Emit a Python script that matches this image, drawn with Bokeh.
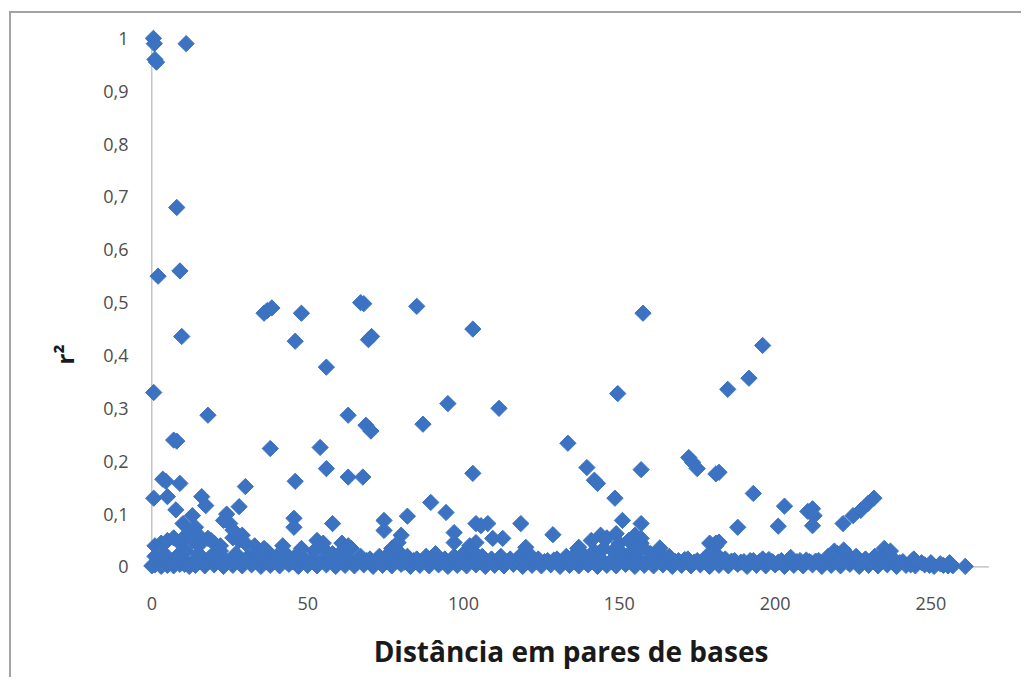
import math
from bokeh.plotting import figure
from bokeh.models import FixedTicker, Title
from bokeh.embed import file_html
from bokeh.resources import INLINE

# ---- data ----
x_label = "Distância em pares de bases"
y_label = "r²"

x_ticks = [0, 50, 100, 150, 200, 250]
x_axis_max = 268.6
y_ticks = [0, 0.1, 0.2, 0.3, 0.4, 0.5, 0.6, 0.7, 0.8, 0.9, 1.0]
y_tick_labels = ["0", "0,1", "0,2", "0,3", "0,4", "0,5", "0,6", "0,7", "0,8", "0,9", "1"]

# prominent (isolated) points
peak_x = [0.5, 0.8, 1.0, 1.5, 11, 8, 2, 9, 9.6, 0.6, 18, 7, 8, 36, 37, 38.5, 48, 46, 56,
          67, 68, 69.5, 70.5, 85, 103, 95, 87, 63, 68.7, 70.3, 38, 54, 56, 63, 67.7, 46,
          30, 103, 3.5, 4.5, 9, 0.6, 5, 16, 17.3, 7.7, 28, 13, 10, 14, 24, 25, 23, 18,
          45.6, 45.6, 58, 89.5, 94.4, 74.5, 74.5, 82, 80, 79, 97, 97, 104, 157.6, 196,
          191.6, 184.8, 149.5, 111.4, 133.5, 172.3, 173.5, 175, 182, 181, 157, 139.6, 142,
          143, 148.6, 193, 203, 210.5, 201, 188, 181, 182, 118.4, 128.7, 136.7, 151, 157,
          105.6, 107.8, 109.4, 112.6, 104, 157, 157, 212, 212.5, 212, 221.8, 225, 227.5,
          229.8, 231.7, 12, 15, 19, 26, 29]
peak_y = [1.0, 0.99, 0.96, 0.955, 0.99, 0.68, 0.55, 0.56, 0.436, 0.33, 0.287, 0.24, 0.238,
          0.48, 0.485, 0.49, 0.48, 0.427, 0.378, 0.5, 0.498, 0.43, 0.436, 0.493, 0.45,
          0.309, 0.27, 0.287, 0.268, 0.257, 0.224, 0.226, 0.186, 0.17, 0.17, 0.162, 0.152,
          0.177, 0.166, 0.162, 0.158, 0.13, 0.133, 0.133, 0.116, 0.108, 0.114, 0.097, 0.082,
          0.075, 0.1, 0.082, 0.088, 0.054, 0.092, 0.075, 0.082, 0.122, 0.103, 0.088, 0.069,
          0.096, 0.06, 0.046, 0.065, 0.046, 0.082, 0.48, 0.419, 0.357, 0.336, 0.328, 0.30,
          0.234, 0.207, 0.198, 0.186, 0.179, 0.176, 0.184, 0.188, 0.164, 0.158, 0.13, 0.139,
          0.115, 0.105, 0.077, 0.075, 0.045, 0.047, 0.082, 0.061, 0.035, 0.088, 0.082,
          0.078, 0.082, 0.054, 0.054, 0.046, 0.054, 0.04, 0.11, 0.097, 0.078, 0.082, 0.097,
          0.107, 0.12, 0.13, 0.065, 0.06, 0.05, 0.07, 0.06]

# dense band close to zero
band_low_x = [0, 1, 3, 5, 7, 9, 12, 14, 17, 20, 23, 26, 29, 32, 35, 38, 41, 44, 47, 50, 53,
              56, 59, 62, 65, 68, 71, 74, 77, 80, 83, 86, 89, 92, 95, 98, 101, 104, 107,
              110, 113, 116, 119, 122, 125, 128, 131, 134, 137, 140, 143, 146, 149, 152,
              155, 158, 161, 164, 167, 170, 173, 176, 179, 182, 185, 188, 191, 194, 197,
              200, 203, 206, 209, 212, 215, 218, 221, 224, 227, 230, 233, 236, 239, 242,
              245, 248, 251, 254, 257, 261]
band_low_y = [0.002, 0.004, 0.001, 0.003, 0.002, 0.005, 0.001, 0.003, 0.002, 0.004, 0.001,
              0.003, 0.002, 0.004, 0.001, 0.003, 0.002, 0.005, 0.001, 0.003, 0.002, 0.004,
              0.001, 0.003, 0.002, 0.004, 0.001, 0.003, 0.002, 0.005, 0.001, 0.003, 0.002,
              0.004, 0.001, 0.003, 0.002, 0.004, 0.001, 0.003, 0.002, 0.005, 0.001, 0.003,
              0.002, 0.004, 0.001, 0.003, 0.002, 0.004, 0.001, 0.003, 0.002, 0.005, 0.001,
              0.003, 0.002, 0.004, 0.001, 0.003, 0.002, 0.004, 0.001, 0.003, 0.002, 0.005,
              0.001, 0.003, 0.002, 0.004, 0.001, 0.003, 0.002, 0.004, 0.001, 0.003, 0.002,
              0.005, 0.001, 0.003, 0.002, 0.004, 0.001, 0.003, 0.002, 0.004, 0.001, 0.003,
              0.002, 0.001]
band_half_x = [1.5, 4.5, 7.5, 10.5, 13.5, 16.5, 19.5, 22.5, 25.5, 28.5, 31.5, 34.5, 37.5,
               40.5, 43.5, 46.5, 49.5, 52.5, 55.5, 58.5, 61.5, 64.5, 67.5, 70.5, 73.5, 76.5,
               79.5, 82.5, 85.5, 88.5, 91.5, 94.5, 97.5, 100.5, 103.5, 106.5, 109.5, 112.5,
               115.5, 118.5, 121.5, 124.5, 127.5, 130.5, 133.5, 136.5, 139.5, 142.5, 145.5,
               148.5, 151.5, 154.5, 157.5, 160.5, 163.5, 166.5, 169.5, 172.5, 175.5, 178.5,
               181.5, 184.5, 187.5, 190.5, 193.5, 196.5, 199.5, 202.5, 205.5, 208.5, 211.5,
               214.5, 217.5, 220.5, 223.5, 226.5, 229.5, 232.5, 235.5, 238.5, 243.5, 249.5,
               255.5]
band_half_y = [0.007, 0.006, 0.008, 0.005, 0.007, 0.006, 0.008, 0.005, 0.007, 0.006, 0.008,
               0.005, 0.007, 0.006, 0.008, 0.005, 0.007, 0.006, 0.008, 0.005, 0.007, 0.006,
               0.008, 0.005, 0.007, 0.006, 0.008, 0.005, 0.007, 0.006, 0.008, 0.005, 0.007,
               0.006, 0.008, 0.005, 0.007, 0.006, 0.008, 0.005, 0.007, 0.006, 0.008, 0.005,
               0.007, 0.006, 0.008, 0.005, 0.007, 0.006, 0.008, 0.005, 0.007, 0.006, 0.008,
               0.005, 0.007, 0.006, 0.008, 0.005, 0.007, 0.006, 0.008, 0.005, 0.007, 0.006,
               0.008, 0.005, 0.007, 0.006, 0.008, 0.005, 0.007, 0.006, 0.008, 0.005, 0.007,
               0.006, 0.008, 0.005, 0.004, 0.003, 0.002]
band_fill_x = [2, 6, 10, 13, 16, 18, 21, 24, 28, 30, 33, 36, 39, 42, 45, 48, 51, 54, 57, 60,
               63, 66, 69, 72, 75, 78, 81, 84, 87, 90, 93, 96, 99, 102, 105, 108, 111, 114,
               117, 120, 123, 126, 129, 132, 135, 138, 141, 144, 147, 150, 153, 156, 159, 162,
               165, 168, 171, 174, 177, 180, 183, 186, 189, 192, 195, 198, 201, 204, 207, 210,
               213, 216, 219, 222, 225, 228, 231, 234, 237, 240]
band_fill_y = [0.012, 0.01, 0.014, 0.009, 0.012, 0.01, 0.013, 0.011, 0.009, 0.012, 0.01,
               0.014, 0.009, 0.012, 0.01, 0.013, 0.011, 0.009, 0.012, 0.01, 0.014, 0.009,
               0.012, 0.01, 0.013, 0.011, 0.009, 0.012, 0.01, 0.014, 0.009, 0.012, 0.01,
               0.013, 0.011, 0.009, 0.012, 0.01, 0.014, 0.009, 0.012, 0.01, 0.013, 0.011,
               0.009, 0.012, 0.01, 0.014, 0.009, 0.012, 0.01, 0.013, 0.011, 0.009, 0.012,
               0.01, 0.014, 0.009, 0.012, 0.01, 0.013, 0.011, 0.009, 0.012, 0.01, 0.014,
               0.009, 0.012, 0.01, 0.013, 0.011, 0.009, 0.012, 0.01, 0.014, 0.009, 0.012,
               0.01, 0.013, 0.008]
band_mid_x = [1, 4, 8, 11, 15, 19, 22, 27, 31, 34, 37, 40, 43, 46, 49, 52, 55, 58, 61, 64,
              67, 70, 73, 76, 79, 82, 85, 88, 91, 94, 97, 100, 103, 106, 109, 112, 115, 118,
              121, 124, 127, 130, 133, 136, 139, 142, 145, 148, 151, 154, 157, 160, 163, 166,
              169, 172, 175, 178, 181, 184, 187, 190, 193, 196, 199, 202, 205, 208, 211, 214,
              217, 220, 223, 226, 229, 232, 235, 238, 241, 244, 247, 250, 253, 256]
band_mid_y = [0.02, 0.025, 0.02, 0.03, 0.025, 0.02, 0.03, 0.025, 0.02, 0.025, 0.03, 0.02,
              0.025, 0.02, 0.015, 0.03, 0.035, 0.025, 0.03, 0.035, 0.02, 0.015, 0.02, 0.025,
              0.03, 0.02, 0.015, 0.02, 0.025, 0.015, 0.02, 0.025, 0.03, 0.02, 0.015, 0.02,
              0.015, 0.02, 0.025, 0.015, 0.012, 0.015, 0.02, 0.025, 0.02, 0.03, 0.035, 0.03,
              0.025, 0.03, 0.035, 0.025, 0.028, 0.02, 0.012, 0.015, 0.012, 0.02, 0.025, 0.015,
              0.012, 0.01, 0.012, 0.015, 0.01, 0.012, 0.018, 0.012, 0.01, 0.012, 0.02, 0.025,
              0.025, 0.02, 0.015, 0.02, 0.025, 0.015, 0.01, 0.012, 0.008, 0.008, 0.006, 0.008]
bump_x = [1, 3, 5, 7, 9, 11, 13, 15, 20, 22, 26, 28, 30, 33, 36, 42, 48, 53, 55, 61, 63, 77,
          102, 120, 137, 141, 144, 146, 149, 150, 153, 155, 157, 163, 179, 181, 219, 222,
          235, 237, 244.5]
bump_y = [0.04, 0.045, 0.05, 0.055, 0.045, 0.06, 0.05, 0.04, 0.045, 0.04, 0.055, 0.05, 0.045,
          0.04, 0.035, 0.04, 0.035, 0.05, 0.045, 0.045, 0.04, 0.035, 0.04, 0.037, 0.037,
          0.05, 0.06, 0.055, 0.063, 0.045, 0.05, 0.06, 0.045, 0.036, 0.045, 0.04, 0.03,
          0.032, 0.035, 0.03, 0.015]

xs = band_low_x + band_half_x + band_fill_x + band_mid_x + bump_x + peak_x
ys = band_low_y + band_half_y + band_fill_y + band_mid_y + bump_y + peak_y

# ---- figure ----
p = figure(frame_width=857, frame_height=555,
           min_border_left=131, min_border_right=22, min_border_top=9, min_border_bottom=100,
           x_range=(-3, 272), y_range=(-0.02, 1.03),
           output_backend="svg", toolbar_location=None)
p.styles = {"border-left": "2px solid #a3a3a3", "border-top": "2px solid #a3a3a3",
            "margin-left": "9px", "margin-top": "11px"}
p.background_fill_color = "white"
p.border_fill_color = "white"
p.outline_line_color = None
p.grid.visible = False

# axis lines drawn at x=0 and y=0 (the frame is slightly larger so marks are not clipped)
p.segment(x0=[x_ticks[0], x_ticks[0]], y0=[y_ticks[0], y_ticks[0]],
          x1=[x_ticks[0], x_axis_max], y1=[y_ticks[-1], y_ticks[0]],
          line_color="#a6a6a6", line_width=1)

p.scatter(xs, ys, marker="square", size=11.5, angle=math.pi / 4,
          fill_color="#3b72c1", line_color="#3b72c1", line_width=1)

for ax in (p.xaxis[0], p.yaxis[0]):
    ax.axis_line_color = None
    ax.major_tick_line_color = None
    ax.minor_tick_line_color = None
    ax.major_tick_out = 0
    ax.major_tick_in = 0
    ax.major_label_text_font = "Open Sans"
    ax.major_label_text_font_size = "18px"
    ax.major_label_text_color = "#4d4d4d"

p.xaxis.ticker = FixedTicker(ticks=x_ticks)
p.yaxis.ticker = FixedTicker(ticks=y_ticks)
p.yaxis.major_label_overrides = {t: s for t, s in zip(y_ticks, y_tick_labels)}
p.xaxis.major_label_standoff = 19
p.yaxis.major_label_standoff = 14

p.xaxis.axis_label = x_label
p.xaxis.axis_label_text_font = "Open Sans"
p.xaxis.axis_label_text_font_style = "bold"
p.xaxis.axis_label_text_font_size = "28px"
p.xaxis.axis_label_text_color = "#1a1a1a"
p.xaxis.axis_label_standoff = 19

ttl = Title(text=y_label, align="left", offset=213, standoff=40,
            text_font="Open Sans", text_font_style="bold",
            text_font_size="24px", text_color="#1a1a1a")
p.add_layout(ttl, "left")

open("out.html", "w").write(file_html(p, INLINE))
